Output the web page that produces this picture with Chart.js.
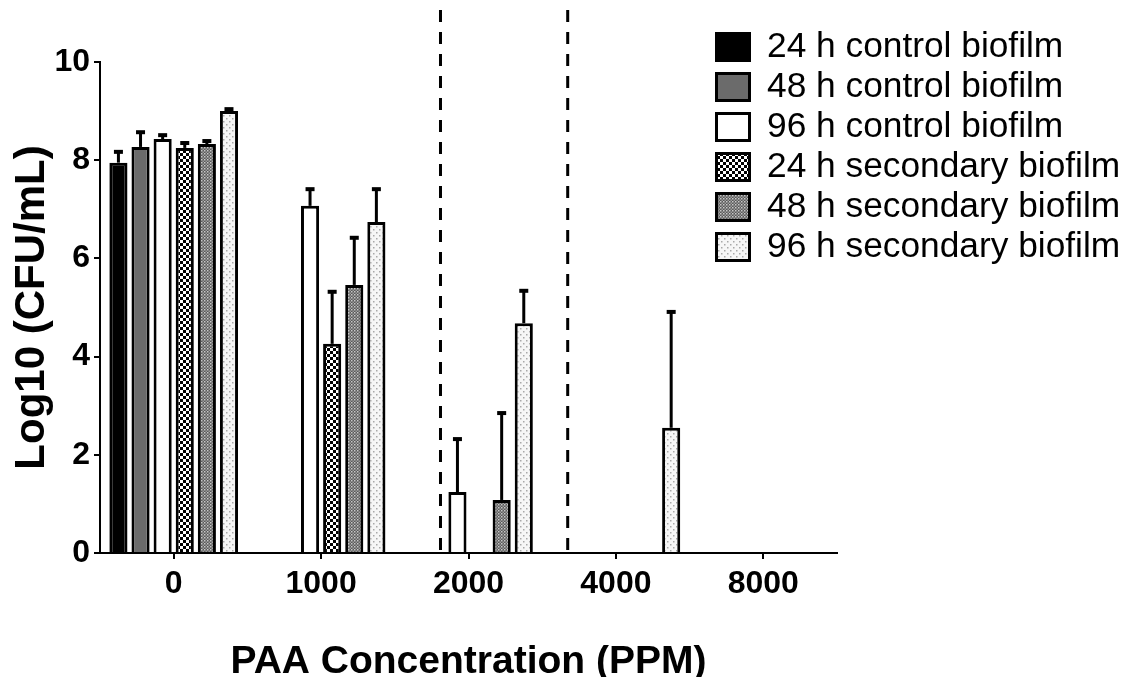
<!DOCTYPE html>
<html><head><meta charset="utf-8">
<script src="https://cdn.jsdelivr.net/npm/chart.js@4.4.0/dist/chart.umd.min.js"></script>
<style>html,body{margin:0;padding:0;background:#fff}#wrap{width:1134px;height:677px}</style>
</head><body><div id="wrap"><canvas id="c" width="1134" height="677"></canvas></div>
<script>
// ---- data ----
const categories = ['0', '1000', '2000', '4000', '8000'];
const seriesNames = ['24 h control biofilm', '48 h control biofilm', '96 h control biofilm',
  '24 h secondary biofilm', '48 h secondary biofilm', '96 h secondary biofilm'];
const ctl24 = [7.95, 0, 0, 0, 0];
const ctl24Err = [0.22, 0, 0, 0, 0];
const ctl48 = [8.27, 0, 0, 0, 0];
const ctl48Err = [0.30, 0, 0, 0, 0];
const ctl96 = [8.43, 7.07, 1.24, 0, 0];
const ctl96Err = [0.08, 0.34, 1.08, 0, 0];
const sec24 = [8.25, 4.26, 0, 0, 0];
const sec24Err = [0.10, 1.06, 0, 0, 0];
const sec48 = [8.33, 5.46, 1.08, 0, 0];
const sec48Err = [0.06, 0.96, 1.77, 0, 0];
const sec96 = [9.00, 6.74, 4.68, 2.55, 0];
const sec96Err = [0.04, 0.67, 0.66, 2.36, 0];
const yTicks = [0, 2, 4, 6, 8, 10];
const dividerPositions = [1.81, 2.673]; // in category-index units

// ---- patterns ----
function makePattern(size, draw) {
  const c = document.createElement('canvas');
  c.width = size; c.height = size;
  const g = c.getContext('2d');
  draw(g, size);
  return g.createPattern(c, 'repeat');
}
const cv = document.getElementById('c');
const pat24 = makePattern(6, (g) => {
  g.fillStyle = '#000'; g.fillRect(0, 0, 6, 6);
  g.fillStyle = '#fff'; g.fillRect(0, 0, 3, 3); g.fillRect(3, 3, 3, 3);
});
const pat48 = makePattern(3, (g) => {
  g.fillStyle = '#5a5a5a'; g.fillRect(0, 0, 3, 3);
  g.fillStyle = '#c8c8c8'; g.fillRect(0, 0, 1.5, 1.5);
  g.fillStyle = '#9a9a9a'; g.fillRect(1.5, 1.5, 1.5, 1.5);
});
const pat96 = makePattern(6, (g) => {
  g.fillStyle = '#f6f6f6'; g.fillRect(0, 0, 6, 6);
  g.fillStyle = '#a8a8a8'; g.fillRect(1, 1, 1.5, 1.5); g.fillRect(4, 4, 1.5, 1.5);
});
const fills = ['#000000', '#6b6b6b', '#ffffff', pat24, pat48, pat96];
const values = [ctl24, ctl48, ctl96, sec24, sec48, sec96];
const errors = [ctl24Err, ctl48Err, ctl96Err, sec24Err, sec48Err, sec96Err];

const datasets = seriesNames.map((n, i) => ({
  label: n,
  data: values[i],
  errors: errors[i],
  backgroundColor: fills[i],
  borderColor: '#000',
  borderWidth: 3,
  borderSkipped: 'start',
  categoryPercentage: 0.9,
  barPercentage: 0.82
}));

const FONT = 'Liberation Sans, Arial, sans-serif';

const errorBars = {
  id: 'errorBars',
  afterDatasetsDraw(chart) {
    const ctx = chart.ctx, y = chart.scales.y;
    ctx.save();
    ctx.strokeStyle = '#000'; ctx.fillStyle = '#000'; ctx.lineWidth = 3;
    chart.data.datasets.forEach((ds, di) => {
      const meta = chart.getDatasetMeta(di);
      meta.data.forEach((bar, i) => {
        const v = ds.data[i], e = ds.errors[i];
        if (!v || !e) return;
        const x = bar.x;
        const y0 = y.getPixelForValue(v), y1 = y.getPixelForValue(v + e);
        ctx.beginPath(); ctx.moveTo(x, y0); ctx.lineTo(x, y1); ctx.stroke();
        ctx.fillRect(x - 4.5, y1 - 2, 9, 4);
      });
    });
    ctx.restore();
  }
};

const dividers = {
  id: 'dividers',
  afterDraw(chart) {
    const ctx = chart.ctx, x = chart.scales.x, area = chart.chartArea;
    ctx.save();
    ctx.strokeStyle = '#000'; ctx.lineWidth = 3; ctx.setLineDash([12, 10]);
    dividerPositions.forEach(p => {
      const px = x.getPixelForValue(p);
      ctx.beginPath(); ctx.moveTo(px, 10); ctx.lineTo(px, area.bottom); ctx.stroke();
    });
    ctx.restore();
  }
};

const customLegend = {
  id: 'customLegend',
  afterDraw(chart) {
    const ctx = chart.ctx;
    ctx.save();
    chart.data.datasets.forEach((ds, i) => {
      const bx = 715, by = 32 + 40 * i, bw = 36, bh = 30;
      ctx.fillStyle = ds.backgroundColor;
      ctx.fillRect(bx, by, bw, bh);
      ctx.strokeStyle = '#000'; ctx.lineWidth = 3;
      ctx.strokeRect(bx + 1.5, by + 1.5, bw - 3, bh - 3);
      ctx.fillStyle = '#000';
      ctx.font = '35.3px ' + FONT;
      ctx.textBaseline = 'middle'; ctx.textAlign = 'left';
      ctx.fillText(ds.label, 767, by + bh / 2);
    });
    ctx.restore();
  }
};

new Chart(cv, {
  type: 'bar',
  data: { labels: categories, datasets },
  plugins: [errorBars, dividers, customLegend],
  options: {
    responsive: false,
    animation: false,
    devicePixelRatio: 1,
    layout: { padding: { left: 0, right: 297, top: 62, bottom: 0 } },
    plugins: { legend: { display: false }, tooltip: { enabled: false } },
    scales: {
      x: {
        offset: true,
        grid: { display: true, offset: false, drawOnChartArea: false, drawTicks: true, tickLength: 6, color: '#000', lineWidth: 2 },
        border: { display: true, color: '#000', width: 2 },
        ticks: { color: '#000', font: { family: FONT, weight: 'bold', size: 32 }, padding: 6, maxRotation: 0 },
        title: { display: true, text: 'PAA Concentration (PPM)', color: '#000',
          font: { family: FONT, weight: 'bold', size: 39, lineHeight: 1 }, padding: { top: 0, bottom: -5 } },
        afterFit(s) { s.height = 124; }
      },
      y: {
        min: 0, max: 10,
        afterBuildTicks(s) { s.ticks = yTicks.map(v => ({ value: v })); },
        grid: { display: true, drawOnChartArea: false, drawTicks: true, tickLength: 6, color: '#000', lineWidth: 2 },
        border: { display: true, color: '#000', width: 2 },
        ticks: { color: '#000', font: { family: FONT, weight: 'bold', size: 32 }, padding: 4 },
        title: { display: true, text: 'Log10 (CFU/mL)', color: '#000',
          font: { family: FONT, weight: 'bold', size: 42, lineHeight: 1 }, padding: { top: 11, bottom: 0 } },
        afterFit(s) { s.width = 100; }
      }
    }
  }
});
</script>
</body></html>
